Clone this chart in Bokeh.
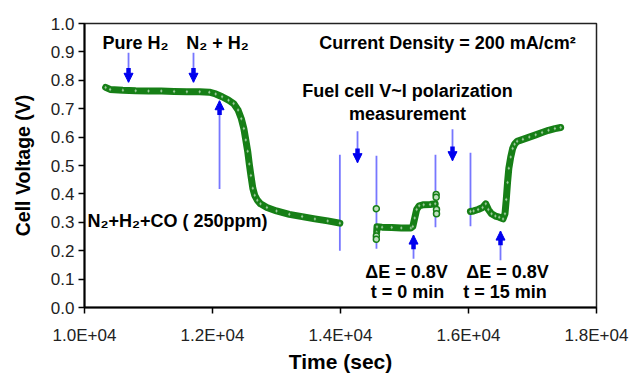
from bokeh.plotting import figure
from bokeh.models import Label, Arrow, NormalHead, Range1d, FixedTicker, PrintfTickFormatter
from bokeh.embed import file_html
from bokeh.resources import INLINE

# ---- data ----
seg1_t = [10330, 10400, 10600, 10800, 11000, 11200, 11400, 11600, 11800, 11950, 12050, 12150,
          12250, 12330, 12400, 12450, 12490, 12520, 12550, 12575, 12600, 12630, 12660, 12700,
          12750, 12850, 13000, 13200, 13400, 13600, 13800, 13990]
seg1_v = [0.775, 0.768, 0.765, 0.763, 0.762, 0.762, 0.761, 0.760, 0.760, 0.758, 0.752, 0.742,
          0.730, 0.718, 0.695, 0.665, 0.630, 0.590, 0.550, 0.505, 0.465, 0.420, 0.395, 0.378,
          0.365, 0.352, 0.340, 0.328, 0.320, 0.312, 0.305, 0.297]

seg2_t = [14565, 14570, 14650, 14800, 14950, 15100, 15130, 15160, 15190, 15230, 15300, 15400, 15480]
seg2_v = [0.265, 0.284, 0.283, 0.282, 0.280, 0.280, 0.285, 0.315, 0.345, 0.358, 0.362, 0.363, 0.365]
seg2_extra_t = [14560, 14560, 14560, 15495, 15495, 15500, 15500]
seg2_extra_v = [0.348, 0.252, 0.240, 0.398, 0.388, 0.345, 0.330]

seg3_t = [16030, 16080, 16150, 16220, 16270, 16310, 16360, 16420, 16480, 16540, 16570, 16590,
          16610, 16630, 16660, 16690, 16720, 16760, 16850, 16950, 17050, 17150, 17250, 17350, 17440]
seg3_v = [0.338, 0.340, 0.345, 0.352, 0.365, 0.345, 0.330, 0.322, 0.318, 0.312, 0.330, 0.380,
          0.440, 0.490, 0.530, 0.560, 0.575, 0.585, 0.592, 0.600, 0.608, 0.616, 0.624, 0.630, 0.634]

# vertical marker lines (time, bottom V, top V)
vline_t = [13990, 14562, 15484, 16031]
vline_v0 = [0.200, 0.207, 0.283, 0.286]
vline_v1 = [0.538, 0.534, 0.538, 0.545]

# arrows: (time, tail V, tip V)
arrow_t = [10688, 11703, 12110, 14266, 15750, 15141, 16500]
arrow_tail = [0.897, 0.897, 0.417, 0.621, 0.628, 0.172, 0.166]
arrow_tip = [0.793, 0.793, 0.728, 0.510, 0.517, 0.255, 0.269]

x_ticks = [10000, 12000, 14000, 16000, 18000]
x_tick_labels = ["1.0E+04", "1.2E+04", "1.4E+04", "1.6E+04", "1.8E+04"]
y_ticks = [0.0, 0.1, 0.2, 0.3, 0.4, 0.5, 0.6, 0.7, 0.8, 0.9, 1.0]

GREEN = "#167f16"
BLUE = "#0000ee"
LBLUE = "#7777ff"
FONT = "Liberation Sans"

p = figure(width=629, height=375, output_backend="svg", toolbar_location=None,
           x_range=Range1d(10000, 18000), y_range=Range1d(0, 1.0),
           min_border_left=84, min_border_right=33, min_border_top=23, min_border_bottom=62)
p.grid.visible = False
p.outline_line_color = "#222222"
p.outline_line_width = 1.5
p.background_fill_color = "white"
p.border_fill_color = "white"

p.xaxis.ticker = FixedTicker(ticks=x_ticks)
p.xaxis.major_label_overrides = {t: l for t, l in zip(x_ticks, x_tick_labels)}
p.yaxis.ticker = FixedTicker(ticks=y_ticks)
p.yaxis.formatter = PrintfTickFormatter(format="%.1f")
for ax in (p.xaxis, p.yaxis):
    ax.axis_line_color = "black"
    ax.axis_line_width = 2
    ax.major_tick_line_color = "black"
    ax.major_tick_line_width = 1.5
    ax.major_tick_out = 6
    ax.major_tick_in = 0
    ax.minor_tick_line_color = None
    ax.major_label_text_font = FONT
    ax.major_label_text_font_size = "17px"
    ax.major_label_text_color = "#222222"
    ax.axis_label_text_font = FONT
    ax.axis_label_text_font_style = "bold"
    ax.axis_label_text_color = "black"
p.xaxis.axis_label = "Time (sec)"
p.yaxis.axis_label = "Cell Voltage (V)"
p.xaxis.axis_label_text_font_size = "21px"
p.yaxis.axis_label_text_font_size = "19.5px"
p.xaxis.major_label_standoff = 12
p.yaxis.major_label_standoff = 4
p.xaxis.axis_label_standoff = 2
p.yaxis.axis_label_standoff = 14

# vertical lines
p.segment(x0=vline_t, y0=vline_v0, x1=vline_t, y1=vline_v1, line_color=LBLUE, line_width=1.8)

# data bands
for ts, vs in ((seg1_t, seg1_v), (seg2_t, seg2_v), (seg3_t, seg3_v)):
    p.line(ts, vs, line_color=GREEN, line_width=7, line_cap="round", line_join="round")
    p.scatter(ts, vs, marker="diamond", size=4, line_color=GREEN, fill_color="#d8ecd8",
              line_width=0.5, alpha=0.7)
p.scatter(seg2_extra_t, seg2_extra_v, marker="circle", size=6, line_color=GREEN,
          fill_color="#bfe0bf", line_width=1.5)

# arrows
p.segment(x0=arrow_t, y0=arrow_tail, x1=arrow_t, y1=arrow_tip, line_color=LBLUE, line_width=1.8)
for t, a, b in zip(arrow_t, arrow_tail, arrow_tip):
    d = -1 if b < a else 1
    p.add_layout(Arrow(end=NormalHead(size=9, fill_color=BLUE, line_color=BLUE),
                       x_start=t, y_start=b - d * 0.05, x_end=t, y_end=b,
                       line_color=BLUE, line_width=4.5))


def lab(x, y, text, size="18px", align="center"):
    p.add_layout(Label(x=x, y=y, text=text, text_font=FONT, text_font_style="bold",
                       text_font_size=size, text_align=align, text_baseline="middle",
                       text_color="black"))


lab(10797, 0.931, "Pure H\u2082")
lab(12078, 0.931, "N\u2082 + H\u2082")
lab(15672, 0.931, "Current Density = 200 mA/cm\u00b2")
lab(15047, 0.762, "Fuel cell V~I polarization")
lab(15047, 0.683, "measurement")
lab(10047, 0.303, "N\u2082+H\u2082+CO ( 250ppm)", align="left")
lab(15031, 0.124, "\u0394E = 0.8V")
lab(15047, 0.055, "t = 0 min")
lab(16609, 0.124, "\u0394E = 0.8V")
lab(16570, 0.055, "t = 15 min")

open("out.html", "w").write(file_html(p, INLINE))
